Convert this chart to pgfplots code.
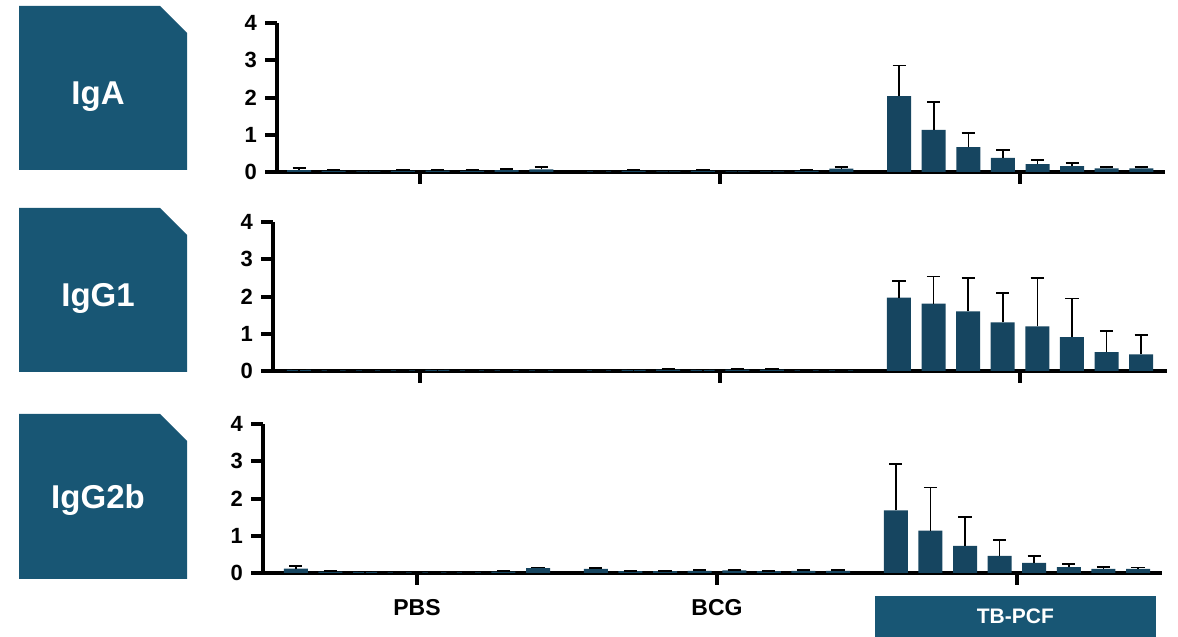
\documentclass[border=0pt]{standalone}
\usepackage{fontspec}
\setmainfont{Liberation Sans}
\usepackage{pgfplots}
\usepackage{pgfplotstable}
\pgfplotsset{compat=1.18}
\definecolor{barc}{RGB}{22,69,96}
\definecolor{boxc}{RGB}{24,86,116}

\pgfplotstableread{
x y e
0 0.05 0.05
1 0.03 0.02
2 0.02 0.02
3 0.03 0.02
4 0.04 0.02
5 0.03 0.02
6 0.05 0.03
7 0.07 0.07
8.67 0.02 0.01
9.67 0.03 0.02
10.67 0.02 0.02
11.67 0.03 0.02
12.67 0.02 0.02
13.67 0.02 0.02
14.67 0.03 0.02
15.67 0.09 0.05
17.34 2.04 0.82
18.34 1.13 0.75
19.34 0.67 0.38
20.34 0.38 0.22
21.34 0.21 0.11
22.34 0.16 0.09
23.34 0.10 0.04
24.34 0.10 0.03
}\igA

\pgfplotstableread{
x y e
0 0.03 0.01
1 0.02 0.01
2 0.02 0.01
3 0.02 0.01
4 0.03 0.01
5 0.02 0.01
6 0.02 0.01
7 0.02 0.01
8.67 0.02 0.01
9.67 0.03 0.01
10.67 0.04 0.01
11.67 0.03 0.01
12.67 0.04 0.01
13.67 0.04 0.01
14.67 0.02 0.01
15.67 0.02 0.01
17.34 1.97 0.44
18.34 1.81 0.73
19.34 1.60 0.91
20.34 1.31 0.79
21.34 1.20 1.30
22.34 0.91 1.04
23.34 0.51 0.56
24.34 0.45 0.52
}\igGone

\pgfplotstableread{
x y e
0 0.12 0.07
1 0.04 0.01
2 0.03 0.01
3 0.02 0.01
4 0.02 0.01
5 0.02 0.01
6 0.04 0.01
7 0.13 0.02
8.67 0.11 0.02
9.67 0.05 0.01
10.67 0.05 0.01
11.67 0.06 0.01
12.67 0.07 0.01
13.67 0.05 0.01
14.67 0.06 0.01
15.67 0.06 0.01
17.34 1.68 1.24
18.34 1.14 1.16
19.34 0.73 0.78
20.34 0.46 0.43
21.34 0.27 0.18
22.34 0.16 0.09
23.34 0.11 0.06
24.34 0.11 0.04
}\igGtwob

\pgfplotsset{panel/.style={
  scale only axis, x=17.3pt, y=18.6pt,
  ymin=0, ymax=4,
  anchor=south west,
  axis x line*=bottom, axis y line*=left,
  axis line style={line width=2.1pt, -, black},
  ytick={0,1,2,3,4}, xtick={3.5,12.17,20.84},
  tick style={line width=2pt, black},
  major tick length=6pt,
  tick align=outside,
  xticklabels={},
  ticklabel style={font=\bfseries\fontsize{11}{13}\selectfont, text=black},
  yticklabel style={xshift=-0.5pt},
  /pgf/number format/assume math mode=true,
  ybar, bar width=12pt,
  clip=false,
}}
\pgfplotsset{bars/.style={fill=barc, draw=none,
  error bars/.cd, y dir=plus, y explicit,
  error bar style={draw=black, line width=0.8pt},
  error mark options={draw=black, line width=0.9pt, mark size=3.3pt, rotate=90}}}

\begin{document}
\begin{tikzpicture}
\useasboundingbox (0,0) rectangle (589pt,318.5pt);
% label boxes
\fill[boxc] (9.5pt,315.5pt) -- (80pt,315.5pt) -- (93.5pt,302pt) -- (93.5pt,233.5pt) -- (9.5pt,233.5pt) -- cycle;
\fill[boxc] (9.5pt,214.5pt) -- (80pt,214.5pt) -- (93.5pt,201pt) -- (93.5pt,132.5pt) -- (9.5pt,132.5pt) -- cycle;
\fill[boxc] (9.5pt,111.5pt) -- (80pt,111.5pt) -- (93.5pt,98pt) -- (93.5pt,29pt) -- (9.5pt,29pt) -- cycle;
\node[text=white, font=\bfseries\fontsize{16.5}{18}\selectfont] at (49pt,270pt) {IgA};
\node[text=white, font=\bfseries\fontsize{16.5}{18}\selectfont] at (49pt,169.5pt) {IgG1};
\node[text=white, font=\bfseries\fontsize{16.5}{18}\selectfont] at (49pt,68.5pt) {IgG2b};
% TB-PCF box
\fill[boxc] (437.5pt,0pt) rectangle (578pt,20.5pt);
\node[text=white, font=\bfseries\fontsize{10.5}{12}\selectfont] at (507.7pt,10.5pt) {TB-PCF};

\begin{axis}[panel, at={(138.5pt,232.5pt)}, xmin=-0.64, xmax=25.03]
\addplot[bars] table[x=x, y=y, y error=e] {\igA};
\end{axis}

\begin{axis}[panel, at={(136.5pt,133pt)}, xmin=-0.75, xmax=25.09]
\addplot[bars] table[x=x, y=y, y error=e] {\igGone};
\end{axis}

\begin{axis}[panel, at={(131.5pt,32pt)}, xmin=-0.95, xmax=25.03,
  xticklabels={PBS,BCG,{}},
  xticklabel style={font=\bfseries\fontsize{11.5}{13}\selectfont, yshift=-3.5pt}]
\addplot[bars] table[x=x, y=y, y error=e] {\igGtwob};
\end{axis}
\end{tikzpicture}
\end{document}
